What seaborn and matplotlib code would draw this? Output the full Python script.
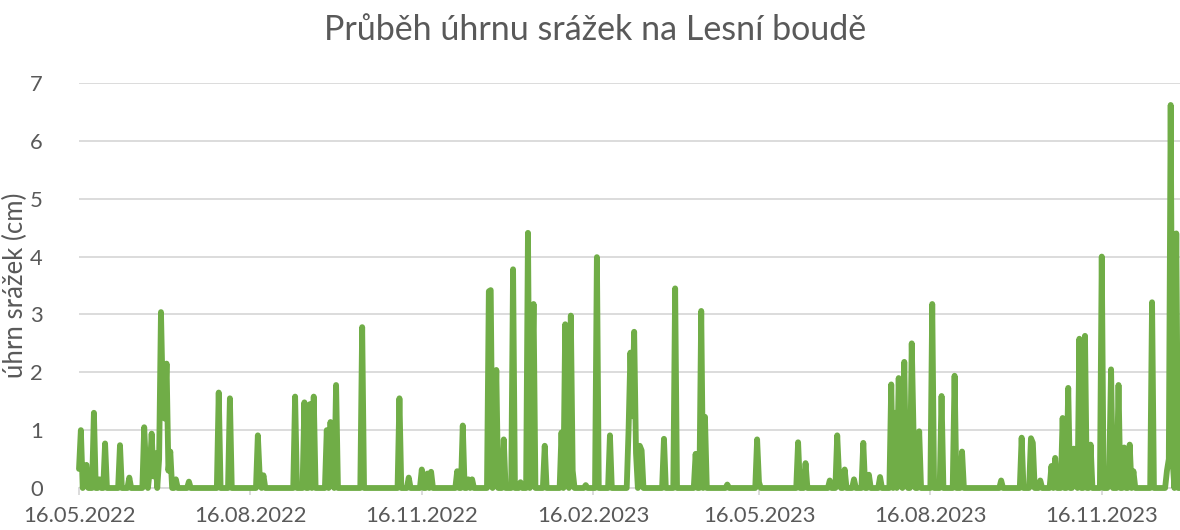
import matplotlib
matplotlib.use('Agg')
import matplotlib.pyplot as plt
import matplotlib.dates as mdates
import pandas as pd
import seaborn as sns

sns.set_theme(style='white')
plt.rcParams['font.family'] = ['Lato', 'DejaVu Sans']

# denni uhrn srazek (dny bez zaznamu = 0)
start_date = '16.05.2022'
end_date = '28.12.2023'
rain_dates = [
    '16.05.2022', '17.05.2022', '19.05.2022', '20.05.2022', '24.05.2022', '27.05.2022', '30.05.2022',
    '07.06.2022', '12.06.2022', '20.06.2022', '21.06.2022', '23.06.2022', '24.06.2022', '25.06.2022',
    '26.06.2022', '28.06.2022', '29.06.2022', '30.06.2022', '01.07.2022', '02.07.2022', '03.07.2022',
    '04.07.2022', '07.07.2022', '14.07.2022', '30.07.2022', '05.08.2022', '20.08.2022', '21.08.2022',
    '23.08.2022', '09.09.2022', '14.09.2022', '17.09.2022', '19.09.2022', '26.09.2022', '28.09.2022',
    '29.09.2022', '01.10.2022', '15.10.2022', '04.11.2022', '09.11.2022', '16.11.2022', '19.11.2022',
    '21.11.2022', '05.12.2022', '08.12.2022', '11.12.2022', '13.12.2022', '22.12.2022', '23.12.2022',
    '25.12.2022', '26.12.2022', '30.12.2022', '04.01.2023', '08.01.2023', '12.01.2023', '14.01.2023',
    '15.01.2023', '21.01.2023', '30.01.2023', '01.02.2023', '02.02.2023', '04.02.2023', '05.02.2023',
    '12.02.2023', '18.02.2023', '25.02.2023', '07.03.2023', '08.03.2023', '09.03.2023', '10.03.2023',
    '11.03.2023', '13.03.2023', '14.03.2023', '26.03.2023', '01.04.2023', '12.04.2023', '15.04.2023',
    '17.04.2023', '29.04.2023', '15.05.2023', '16.05.2023', '06.06.2023', '10.06.2023', '23.06.2023',
    '27.06.2023', '28.06.2023', '01.07.2023', '06.07.2023', '11.07.2023', '14.07.2023', '20.07.2023',
    '26.07.2023', '28.07.2023', '30.07.2023', '31.07.2023', '02.08.2023', '03.08.2023', '06.08.2023',
    '07.08.2023', '10.08.2023', '17.08.2023', '22.08.2023', '29.08.2023', '02.09.2023', '23.09.2023',
    '04.10.2023', '09.10.2023', '10.10.2023', '14.10.2023', '20.10.2023', '22.10.2023', '26.10.2023',
    '29.10.2023', '01.11.2023', '02.11.2023', '04.11.2023', '07.11.2023', '10.11.2023', '16.11.2023',
    '20.11.2023', '21.11.2023', '25.11.2023', '28.11.2023', '01.12.2023', '03.12.2023', '13.12.2023',
    '21.12.2023', '22.12.2023', '23.12.2023', '24.12.2023', '26.12.2023',
]
rain_values = [
    0.33, 1.0, 0.38, 0.4, 1.3, 0.15, 0.77,
    0.74, 0.18, 1.05, 0.3, 0.3, 0.94, 0.2,
    0.6, 0.5, 3.04, 1.5, 1.2, 2.15, 0.3,
    0.63, 0.15, 0.11, 1.65, 1.55, 0.91, 0.2,
    0.22, 1.58, 1.48, 1.45, 1.58, 1.0, 1.14,
    0.3, 1.78, 2.78, 1.55, 0.18, 0.32, 0.25,
    0.28, 0.29, 1.08, 0.15, 0.15, 3.4, 3.42,
    0.5, 2.04, 0.84, 3.78, 0.1, 4.41, 1.4,
    3.18, 0.73, 0.96, 2.83, 0.38, 2.98, 0.3,
    0.05, 3.99, 0.91, 1.0, 2.34, 1.24, 2.7,
    0.6, 0.73, 0.65, 0.85, 3.45, 0.59, 3.06,
    1.23, 0.06, 0.84, 0.1, 0.79, 0.43, 0.13,
    0.91, 0.2, 0.32, 0.15, 0.78, 0.23, 0.19,
    1.79, 1.3, 1.9, 0.5, 2.18, 0.1, 2.5,
    0.9, 0.98, 3.18, 1.59, 1.94, 0.63, 0.13,
    0.87, 0.86, 0.78, 0.13, 0.38, 0.52, 1.21,
    1.73, 0.68, 0.3, 2.58, 2.63, 0.75, 4.0,
    0.3, 2.05, 1.78, 0.7, 0.75, 0.29, 3.21,
    0.3, 0.5, 6.62, 0.49, 4.4,
]
tick_dates = ['16.05.2022', '16.08.2022', '16.11.2022', '16.02.2023',
              '16.05.2023', '16.08.2023', '16.11.2023']

days = pd.date_range(pd.to_datetime(start_date, format='%d.%m.%Y'),
                     pd.to_datetime(end_date, format='%d.%m.%Y'), freq='D')
rain = pd.Series(0.0, index=days)
rain[pd.to_datetime(rain_dates, format='%d.%m.%Y')] = rain_values
df = pd.DataFrame({'datum': days, 'srazky': rain.values})

text_c = '#595959'
grid_c = '#D9D9D9'

fig = plt.figure(figsize=(11.8, 5.3), dpi=100)
ax = fig.add_axes([79/1180, 42/530, 1101/1180, 405/530])

sns.lineplot(data=df, x='datum', y='srazky', color='#70AD47', linewidth=4.2, ax=ax)
for ln in ax.lines:
    ln.set_solid_joinstyle('round')
    ln.set_solid_capstyle('round')
    ln.set_clip_on(False)
    ln.set_zorder(3)

ax.set_ylim(0, 7)
ax.set_yticks(range(0, 8))
ax.set_xlim(days[0], days[-1])
ax.set_xticks(pd.to_datetime(tick_dates, format='%d.%m.%Y'))
ax.xaxis.set_major_formatter(mdates.DateFormatter('%d.%m.%Y'))

ax.yaxis.grid(True, color=grid_c, linewidth=1.3)
ax.xaxis.grid(False)
ax.set_axisbelow(True)
for s in ['top', 'right', 'left']:
    ax.spines[s].set_visible(False)
ax.spines['bottom'].set_color(grid_c)
ax.spines['bottom'].set_linewidth(1.3)
ax.spines['bottom'].set_zorder(1)

ax.tick_params(axis='x', bottom=True, length=5, width=1.3, color=grid_c,
               labelsize=15.8, labelcolor=text_c, pad=8)
ax.tick_params(axis='y', left=False, labelsize=15.8, labelcolor=text_c, pad=20)

ax.set_xlabel('')
ax.set_ylabel('úhrn srážek (cm)', fontsize=18.5, color=text_c)
ax.yaxis.set_label_coords(-0.0463, 0.5)

fig.text(595/1180, 1 - 30/530, 'Průběh úhrnu srážek na Lesní boudě',
         ha='center', va='center', fontsize=24.5, color=text_c)

fig.savefig('out.png', dpi=100)
